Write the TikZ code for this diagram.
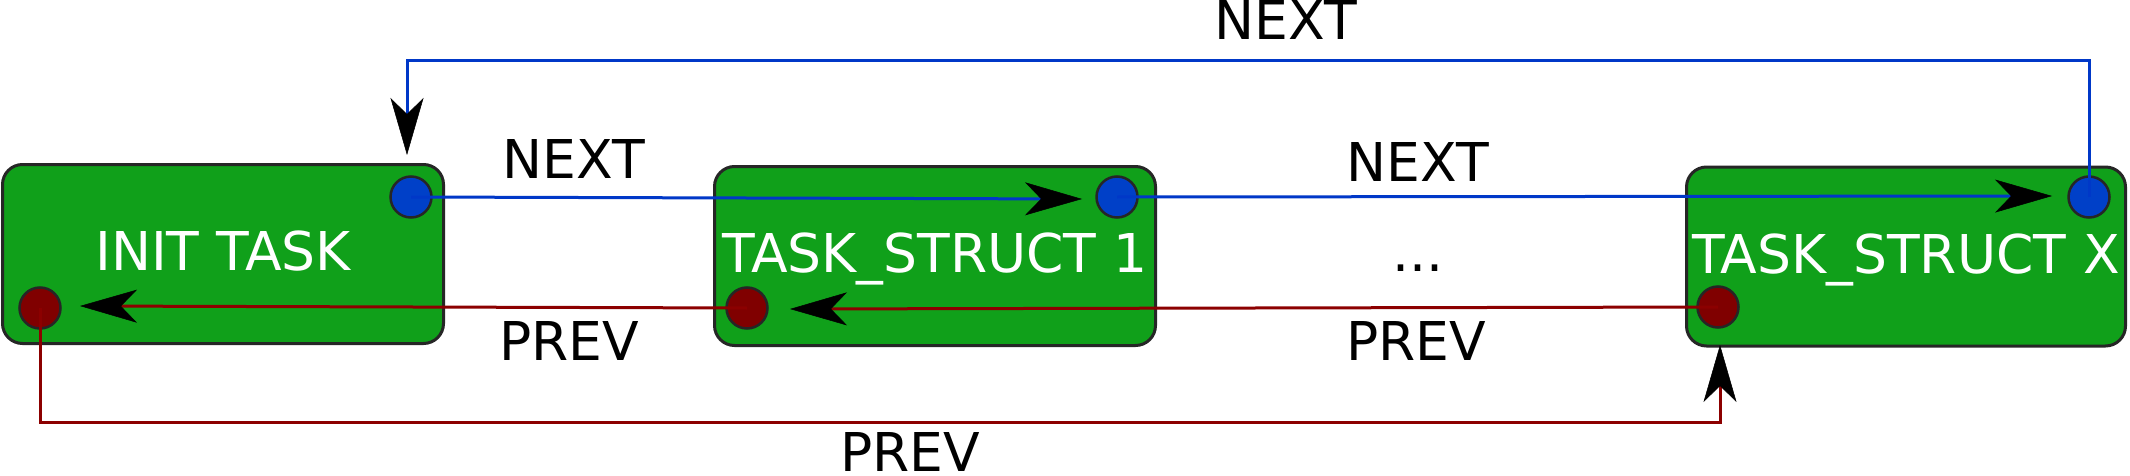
\documentclass[tikz,border=0pt]{standalone}
\usepackage{fontspec}
\setmainfont{DejaVu Sans}
\usetikzlibrary{arrows.meta}
\definecolor{boxgreen}{RGB}{16,160,26}
\definecolor{dotblue}{RGB}{0,64,200}
\definecolor{dotred}{RGB}{128,0,0}
\definecolor{lineblue}{RGB}{0,56,200}
\definecolor{linered}{RGB}{140,0,0}
\begin{document}
\begin{tikzpicture}[x=1pt,y=-1pt,
  bigfont/.style={font=\fontsize{53.5}{60}\selectfont},
  taskbox/.style={draw=black!85, line width=3pt, fill=boxgreen, rounded corners=20pt,
    minimum width=441pt, minimum height=179pt, inner sep=0pt, text=white, bigfont,
    text height=36pt, text depth=3pt},
  blueport/.style={circle, draw=black!85, line width=2.5pt, fill=dotblue, minimum size=41pt, inner sep=0pt},
  redport/.style={circle, draw=black!85, line width=2.5pt, fill=dotred, minimum size=41pt, inner sep=0pt},
  tiparrow/.style={-{Stealth[length=57pt,width=33pt,inset=16pt,color=black,line width=0.5pt]}},
  nextline/.style={draw=lineblue, line width=3pt, tiparrow},
  prevline/.style={draw=linered, line width=3pt, tiparrow},
  lbl/.style={bigfont, text=black, inner sep=0pt, anchor=base}]
\useasboundingbox (0,0) rectangle (2130,476);
% boxes
\node[taskbox] (b1) at (223,254) {INIT TASK};
\node[taskbox] (b2) at (935,256) {TASK\_STRUCT 1};
\node[taskbox, minimum width=439pt] (b3) at (1906,256.5) {TASK\_STRUCT X};
% ports
\node[blueport] (n1) at (411,197) {};
\node[redport]  (r1) at (40,308) {};
\node[blueport] (n2) at (1117,197) {};
\node[redport]  (r2) at (747,308) {};
\node[blueport] (n3) at (2089,197) {};
\node[redport]  (r3) at (1718,307) {};
% arrow tip points
\coordinate (t12) at (1082,199);
\coordinate (t23) at (2052,196);
\coordinate (t13) at (407,155);
\coordinate (t21) at (80,306);
\coordinate (t32) at (790,309);
\coordinate (t31) at (1720,345);
\coordinate (topy) at (0,61);
\coordinate (boty) at (0,422);
% connectors
\draw[nextline] (n1.center) -- (t12);
\draw[nextline] (n2.center) -- (t23);
\draw[nextline] (n3.center) -- (n3.center |- topy) -| (t13);
\draw[prevline] (r2.center) -- (t21);
\draw[prevline] (r3.center) -- (t32);
\draw[prevline] (r1.center) -- (r1.center |- boty) -| (t31);
% labels
\node[lbl] (l1) at (1286,40) {NEXT};
\node[lbl] (l2) at (574,178) {NEXT};
\node[lbl] (l3) at (1418,181) {NEXT};
\node[lbl] (l4) at (1418,271) {...};
\node[lbl] (l5) at (569,360) {PREV};
\node[lbl] (l6) at (1416,360) {PREV};
\node[lbl] (l7) at (910,471) {PREV};
\end{tikzpicture}
\end{document}
